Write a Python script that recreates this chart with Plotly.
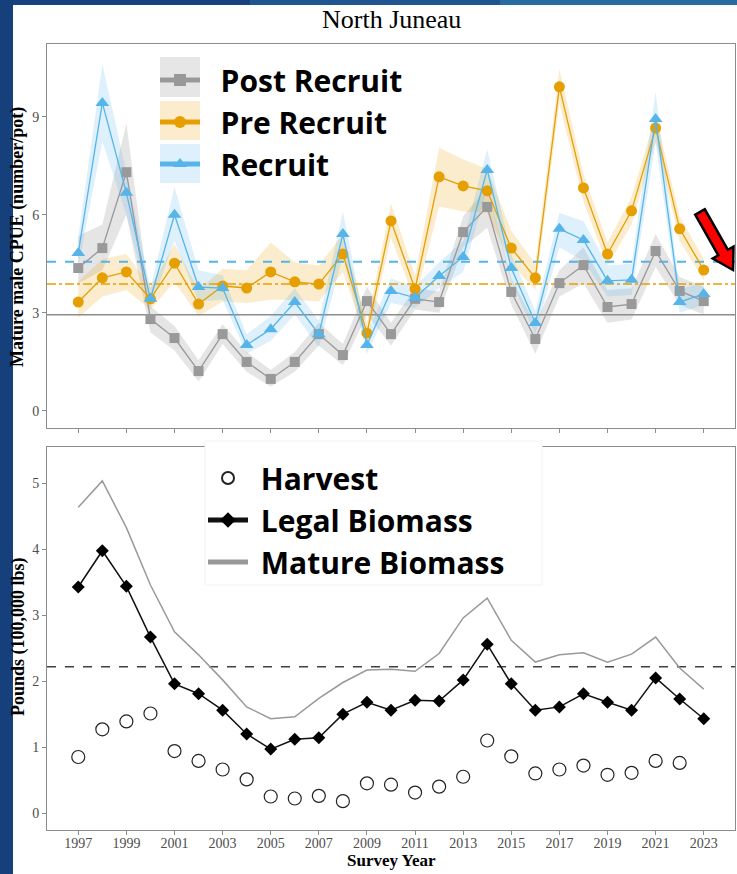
import plotly.graph_objects as go

# ---------------- data ----------------
years = list(range(1997, 2024))
harvest_years = list(range(1997, 2023))

post_recruit = [4.37, 4.98, 7.30, 2.81, 2.23, 1.22, 2.35, 1.50, 0.98, 1.50, 2.35, 1.71, 3.36, 2.35,
                3.43, 3.33, 5.47, 6.24, 3.64, 2.20, 3.91, 4.46, 3.18, 3.27, 4.89, 3.67, 3.36]
post_lo = [3.90, 4.30, 6.00, 2.40, 1.85, 0.90, 2.05, 1.20, 0.75, 1.20, 2.00, 1.40, 2.95, 2.00,
           3.10, 3.00, 5.00, 5.60, 3.25, 1.75, 3.50, 3.90, 2.70, 2.80, 4.40, 3.25, 2.95]
post_hi = [5.35, 5.70, 8.80, 3.20, 2.60, 1.55, 2.65, 1.80, 1.25, 1.80, 2.70, 2.05, 3.80, 2.70,
           3.75, 3.65, 5.95, 6.85, 4.05, 2.65, 4.30, 5.00, 3.70, 3.75, 5.40, 4.10, 3.80]

pre_recruit = [3.33, 4.07, 4.25, 3.43, 4.52, 3.27, 3.82, 3.76, 4.25, 3.95, 3.88, 4.80, 2.38, 5.81,
               3.73, 7.16, 6.88, 6.73, 4.98, 4.07, 9.91, 6.82, 4.80, 6.12, 8.65, 5.57, 4.31]
pre_lo = [2.85, 3.50, 3.70, 3.10, 3.95, 2.90, 3.35, 3.30, 3.40, 3.40, 3.35, 4.25, 2.10, 5.30,
          3.35, 6.25, 6.10, 6.05, 4.50, 3.70, 9.40, 6.40, 4.45, 5.70, 8.25, 5.20, 4.00]
pre_hi = [3.95, 4.65, 4.80, 3.80, 5.10, 3.70, 4.35, 4.30, 5.15, 4.55, 4.45, 5.40, 2.70, 6.35,
          4.15, 8.05, 7.70, 7.40, 5.50, 4.50, 10.45, 7.25, 5.15, 6.55, 9.05, 5.95, 4.65]

recruit = [4.83, 9.42, 6.67, 3.43, 6.00, 3.79, 3.76, 2.02, 2.50, 3.33, 2.35, 5.41, 2.02, 3.67,
           3.46, 4.13, 4.71, 7.37, 4.37, 2.69, 5.57, 5.23, 3.98, 4.01, 8.93, 3.33, 3.58]
rec_lo = [4.40, 8.25, 6.00, 3.15, 5.20, 3.35, 3.40, 1.75, 2.15, 2.95, 1.95, 4.75, 1.75, 3.30,
          3.15, 3.75, 4.25, 6.80, 3.95, 2.35, 5.00, 4.60, 3.50, 3.55, 8.20, 3.00, 3.25]
rec_hi = [5.30, 10.60, 7.30, 3.75, 6.85, 4.30, 4.15, 2.35, 2.90, 3.75, 2.75, 6.10, 2.35, 4.05,
          3.80, 4.55, 5.20, 8.00, 4.80, 3.05, 6.05, 5.80, 4.45, 4.50, 9.75, 3.70, 3.95]

post_mean = 2.94
pre_mean = 3.88
rec_mean = 4.56

legal_biomass = [3.43, 3.98, 3.44, 2.67, 1.96, 1.81, 1.56, 1.20, 0.97, 1.12, 1.14, 1.50, 1.68, 1.56,
                 1.71, 1.70, 2.02, 2.56, 1.96, 1.56, 1.61, 1.81, 1.68, 1.56, 2.05, 1.73, 1.43]
mature_biomass = [4.64, 5.04, 4.33, 3.46, 2.75, 2.40, 2.02, 1.61, 1.43, 1.46, 1.74, 1.98, 2.17, 2.18,
                  2.15, 2.42, 2.96, 3.26, 2.62, 2.29, 2.40, 2.43, 2.29, 2.41, 2.67, 2.20, 1.88]
harvest = [0.85, 1.27, 1.39, 1.51, 0.94, 0.79, 0.66, 0.51, 0.25, 0.22, 0.26, 0.18, 0.45, 0.43,
           0.31, 0.40, 0.55, 1.10, 0.86, 0.60, 0.66, 0.72, 0.58, 0.61, 0.79, 0.76]
threshold = 2.22

x_ticks = list(range(1997, 2024, 2))
top_yticks = [0, 3, 6, 9]
bot_yticks = [0, 1, 2, 3, 4, 5]

# ---------------- geometry helpers (layout only) ----------------
W, H = 737, 874
ML, MR, MT, MB = 47, 2, 44, 44
PW = W - ML - MR
PH = H - MT - MB


def px(x):
    return (x - ML) / PW


def py(y):
    return (H - MB - y) / PH


GRAY, ORANGE, BLUE = "#999999", "#E69F00", "#56B4E9"
GRAY_F, ORANGE_F, BLUE_F = "rgba(153,153,153,0.25)", "rgba(230,159,0,0.2)", "rgba(86,180,233,0.2)"
NB = "\u00a0"

fig = go.Figure()


def ribbon(lo, hi, fill, xa="x", ya="y"):
    fig.add_trace(go.Scatter(x=years + years[::-1], y=hi + lo[::-1], fill="toself",
                             fillcolor=fill, line=dict(width=0), mode="lines",
                             hoverinfo="skip", showlegend=False, xaxis=xa, yaxis=ya))


ribbon(post_lo, post_hi, GRAY_F)
ribbon(pre_lo, pre_hi, ORANGE_F)
ribbon(rec_lo, rec_hi, BLUE_F)

# mean reference lines
for val, col, dash, w in [(post_mean, "#8c8c8c", "solid", 1.5),
                          (pre_mean, ORANGE, "dashdot", 1.5),
                          (rec_mean, BLUE, "dash", 2)]:
    fig.add_trace(go.Scatter(x=[1995.7, 2024.3], y=[val, val], mode="lines",
                             line=dict(color=col, dash=dash, width=w),
                             hoverinfo="skip", showlegend=False, xaxis="x", yaxis="y"))

fig.add_trace(go.Scatter(x=years, y=post_recruit, mode="lines+markers", name=NB * 2 + "Post Recruit",
                         line=dict(color=GRAY, width=1.3),
                         marker=dict(symbol="square", size=10, color=GRAY),
                         legend="legend", xaxis="x", yaxis="y"))
fig.add_trace(go.Scatter(x=years, y=pre_recruit, mode="lines+markers", name=NB * 2 + "Pre Recruit",
                         line=dict(color=ORANGE, width=1.3),
                         marker=dict(symbol="circle", size=11, color=ORANGE),
                         legend="legend", xaxis="x", yaxis="y"))
fig.add_trace(go.Scatter(x=years, y=recruit, mode="lines+markers", name=NB * 2 + "Recruit",
                         line=dict(color=BLUE, width=1.3),
                         marker=dict(symbol="triangle-up", size=12, color=BLUE),
                         legend="legend", xaxis="x", yaxis="y"))

# bottom panel
fig.add_trace(go.Scatter(x=[1995.7, 2024.3], y=[threshold, threshold], mode="lines",
                         line=dict(color="#404040", dash="dash", width=1.5),
                         hoverinfo="skip", showlegend=False, xaxis="x2", yaxis="y2"))
fig.add_trace(go.Scatter(x=harvest_years, y=harvest, mode="markers", name=NB + "Harvest",
                         marker=dict(symbol="circle-open", size=13, color="#222222",
                                     line=dict(width=1.2)),
                         legend="legend2", xaxis="x2", yaxis="y2"))
fig.add_trace(go.Scatter(x=years, y=legal_biomass, mode="lines+markers", name=NB + "Legal Biomass",
                         line=dict(color="#111111", width=1.5),
                         marker=dict(symbol="diamond", size=10, color="#000000"),
                         legend="legend2", xaxis="x2", yaxis="y2"))
fig.add_trace(go.Scatter(x=years, y=mature_biomass, mode="lines", name=NB + "Mature Biomass",
                         line=dict(color=GRAY, width=1.5),
                         legend="legend2", xaxis="x2", yaxis="y2"))

axis_common = dict(showline=True, mirror=True, linecolor="#8c8c8c", linewidth=1,
                   ticks="outside", ticklen=4, tickcolor="#8c8c8c", showgrid=False,
                   zeroline=False,
                   tickfont=dict(family="Liberation Serif", size=14, color="#4d4d4d"))

shapes = [
    # white page over the blue slide background
    dict(type="rect", xref="paper", yref="paper", x0=px(13), x1=px(W + 5), y0=py(H + 5), y1=py(5),
         fillcolor="white", line=dict(width=0), layer="below"),
    # top strip gradient approximation
    dict(type="rect", xref="paper", yref="paper", x0=px(13), x1=px(250), y0=py(5), y1=py(-2),
         fillcolor="#17427f", line=dict(width=0), layer="below"),
    dict(type="rect", xref="paper", yref="paper", x0=px(250), x1=px(500), y0=py(5), y1=py(-2),
         fillcolor="#1f5590", line=dict(width=0), layer="below"),
    dict(type="rect", xref="paper", yref="paper", x0=px(500), x1=px(W + 5), y0=py(5), y1=py(-2),
         fillcolor="#2a6aa3", line=dict(width=0), layer="below"),
    # legend key boxes (top)
    dict(type="rect", xref="paper", yref="paper", x0=px(160), x1=px(200), y0=py(97), y1=py(57),
         fillcolor="#e6e6e6", line=dict(width=0), layer="above"),
    dict(type="rect", xref="paper", yref="paper", x0=px(160), x1=px(200), y0=py(140), y1=py(101),
         fillcolor="#faeccc", line=dict(width=0), layer="above"),
    dict(type="rect", xref="paper", yref="paper", x0=px(160), x1=px(200), y0=py(183), y1=py(144),
         fillcolor="#ddf0fb", line=dict(width=0), layer="above"),
    # bottom legend box
    dict(type="rect", xref="paper", yref="paper", x0=px(205), x1=px(542), y0=py(585), y1=py(441),
         fillcolor="white", line=dict(width=1, color="#f3f3f3"), layer="above"),
]

# red arrow with black outline
arrow_px = [(695.2, 214.7), (718.3, 255.3), (712.7, 258.5), (733.0, 270.0),
            (733.5, 246.7), (727.9, 249.9), (704.8, 209.3)]
path = "M " + " L ".join(f"{px(a):.5f},{py(b):.5f}" for a, b in arrow_px) + " Z"
shapes.append(dict(type="path", xref="paper", yref="paper", path=path,
                   fillcolor="#ff0000", line=dict(color="black", width=2.5), layer="above"))

legend_font = dict(family="Open Sans", size=30, color="black", weight="bold")

fig.update_layout(
    width=W, height=H,
    margin=dict(l=ML, r=MR, t=MT, b=MB),
    paper_bgcolor="#16407c", plot_bgcolor="white",
    xaxis=dict(domain=[0, 1], anchor="y", range=[1995.7, 2024.3], tickvals=x_ticks,
               showticklabels=False, **axis_common),
    yaxis=dict(domain=[py(428), 1], anchor="x", range=[-0.52, 11.22], tickvals=top_yticks,
               **axis_common),
    xaxis2=dict(domain=[0, 1], anchor="y2", range=[1995.7, 2024.3], tickvals=x_ticks,
                ticklabelstandoff=-4, **axis_common),
    yaxis2=dict(domain=[0, py(447)], anchor="x2", range=[-0.258, 5.554], tickvals=bot_yticks,
                **axis_common),
    legend=dict(x=px(155), y=py(54), xanchor="left", yanchor="top", bgcolor="rgba(0,0,0,0)",
                font=legend_font, itemwidth=40, itemsizing="constant", tracegroupgap=0),
    legend2=dict(x=px(203), y=py(452), xanchor="left", yanchor="top", bgcolor="rgba(0,0,0,0)",
                 font=legend_font, itemwidth=40, itemsizing="constant", tracegroupgap=0),
    shapes=shapes,
    annotations=[
        dict(text="North Juneau", x=px(391), y=py(20), xref="paper", yref="paper",
             showarrow=False, font=dict(family="Liberation Serif", size=26, color="black"),
             xanchor="center", yanchor="middle"),
        dict(text="<b>Mature male CPUE (number/pot)</b>", x=px(18), y=py(237), xref="paper",
             yref="paper", showarrow=False, textangle=-90,
             font=dict(family="Liberation Serif", size=18, color="black"),
             xanchor="center", yanchor="middle"),
        dict(text="<b>Pounds (100,000 lbs)</b>", x=px(18), y=py(637), xref="paper",
             yref="paper", showarrow=False, textangle=-90,
             font=dict(family="Liberation Serif", size=18, color="black"),
             xanchor="center", yanchor="middle"),
        dict(text="<b>Survey Year</b>", x=px(391), y=py(860), xref="paper", yref="paper",
             showarrow=False, font=dict(family="Liberation Serif", size=17, color="black"),
             xanchor="center", yanchor="middle"),
    ],
)

fig.write_html("out.html", config={"displayModeBar": False},
               post_script="document.body.style.margin='0';document.body.style.padding='0';")
